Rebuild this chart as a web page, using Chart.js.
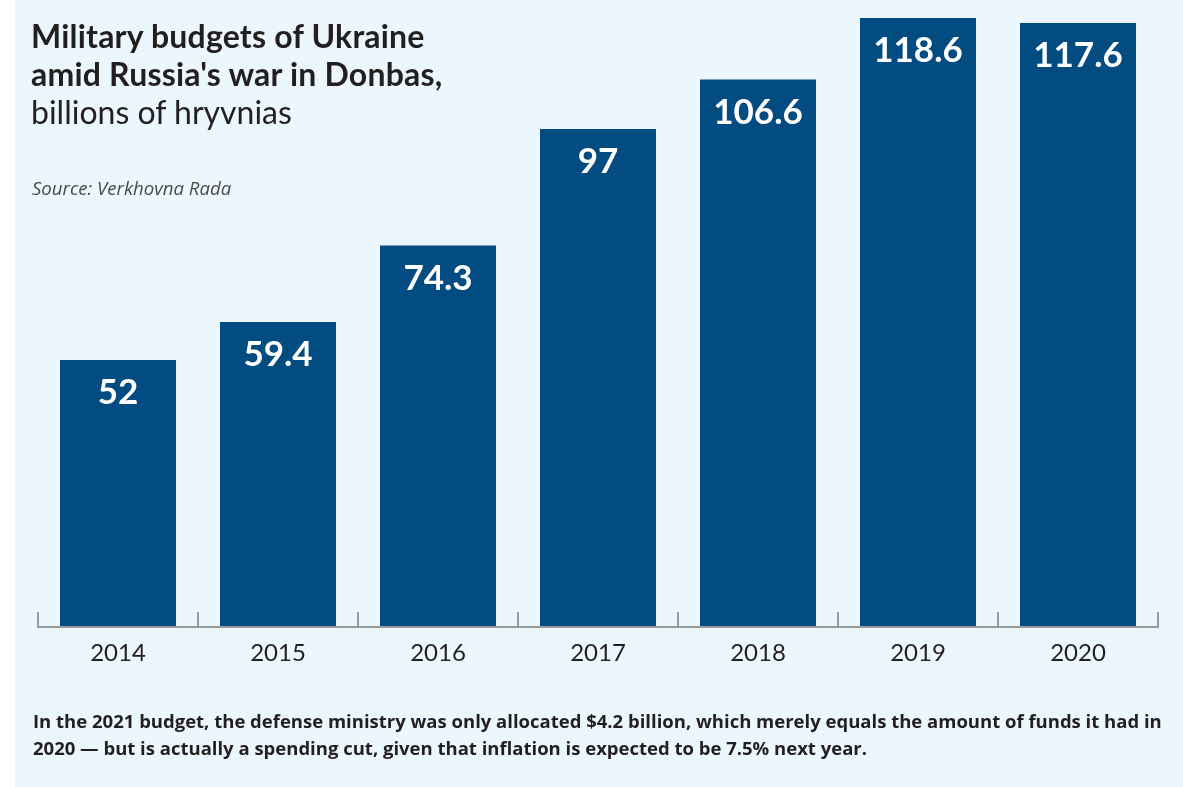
<!DOCTYPE html>
<html>
<head>
<meta charset="utf-8">
<script src="https://cdn.jsdelivr.net/npm/chart.js@4/dist/chart.umd.min.js"></script>
<style>
  html, body { margin: 0; padding: 0; background: #fff; }
  #wrap { position: absolute; left: 15px; top: 0; width: 1168px; height: 787px; background: #ecf7fd; }
  #chartBox { position: absolute; left: 0; top: 0; width: 1168px; height: 787px; }
  .title { position: absolute; left: 16px; top: 17px; font-family: Lato, sans-serif; color: #231f20; font-size: 32px; line-height: 38px; }
  .title b { font-weight: 700; letter-spacing: 0.2px; }
  .source { position: absolute; left: 17px; top: 175px; font-family: "Open Sans", sans-serif; font-style: italic; font-size: 18.6px; color: #4a4a4a; }
  .note { position: absolute; left: 18px; top: 707px; white-space: nowrap; font-family: "Open Sans", sans-serif; font-weight: 700; font-size: 18.5px; line-height: 27px; color: #231f20; }
</style>
</head>
<body>
<div id="wrap">
  <div id="chartBox"><canvas id="budget"></canvas></div>
  <div class="title"><b>Military budgets of Ukraine<br>amid Russia's war in Donbas,</b><br>billions of hryvnias</div>
  <div class="source">Source: Verkhovna Rada</div>
  <div class="note">In the 2021 budget, the defense ministry was only allocated $4.2 billion, which merely equals the amount of funds it had in<br>2020 — but is actually a spending cut, given that inflation is expected to be 7.5% next year.</div>
</div>
<script>
var years = ['2014', '2015', '2016', '2017', '2018', '2019', '2020'];
var budgets = [52, 59.4, 74.3, 97, 106.6, 118.6, 117.6];

var barBlue = '#024c81';
var axisGrey = '#9a9a9a';

// value written near the top of each bar
var barValues = {
    id: 'barValues',
    afterDatasetsDraw: function(chart) {
        var ctx = chart.ctx;
        var meta = chart.getDatasetMeta(0);
        ctx.save();
        ctx.fillStyle = '#ffffff';
        ctx.font = 'bold 35px Lato, sans-serif';
        ctx.textAlign = 'center';
        ctx.textBaseline = 'middle';
        meta.data.forEach(function(bar, i) {
            ctx.fillText(budgets[i], bar.x, bar.y + 33);
        });
        ctx.restore();
    }
};

// baseline with small upward ticks between categories
var baseAxis = {
    id: 'baseAxis',
    afterDatasetsDraw: function(chart) {
        var ctx = chart.ctx;
        var area = chart.chartArea;
        var step = (area.right - area.left) / years.length;
        ctx.save();
        ctx.strokeStyle = axisGrey;
        ctx.lineWidth = 2;
        ctx.beginPath();
        ctx.moveTo(area.left, area.bottom);
        ctx.lineTo(area.right, area.bottom);
        for (var i = 0; i <= years.length; i++) {
            var px = Math.round(area.left + i * step);
            ctx.moveTo(px, area.bottom + 1);
            ctx.lineTo(px, area.bottom - 15);
        }
        ctx.stroke();
        ctx.restore();
    }
};

new Chart(document.getElementById('budget').getContext('2d'), {
    type: 'bar',
    data: {
        labels: years,
        datasets: [{
            data: budgets,
            backgroundColor: barBlue,
            barPercentage: 0.725,
            categoryPercentage: 1
        }]
    },
    options: {
        responsive: true,
        maintainAspectRatio: false,
        animation: false,
        layout: { padding: { left: 23, right: 25, top: 0, bottom: 0 } },
        plugins: { legend: { display: false }, tooltip: { enabled: false } },
        scales: {
            x: {
                grid: { display: false, drawTicks: false },
                border: { display: false },
                ticks: { color: '#231f20', font: { family: 'Lato, sans-serif', size: 24 }, padding: 12 },
                afterFit: function(s) { s.height = 160; }
            },
            y: {
                display: false,
                min: 0,
                max: 122.1
            }
        }
    },
    plugins: [barValues, baseAxis]
});
</script>
</body>
</html>
